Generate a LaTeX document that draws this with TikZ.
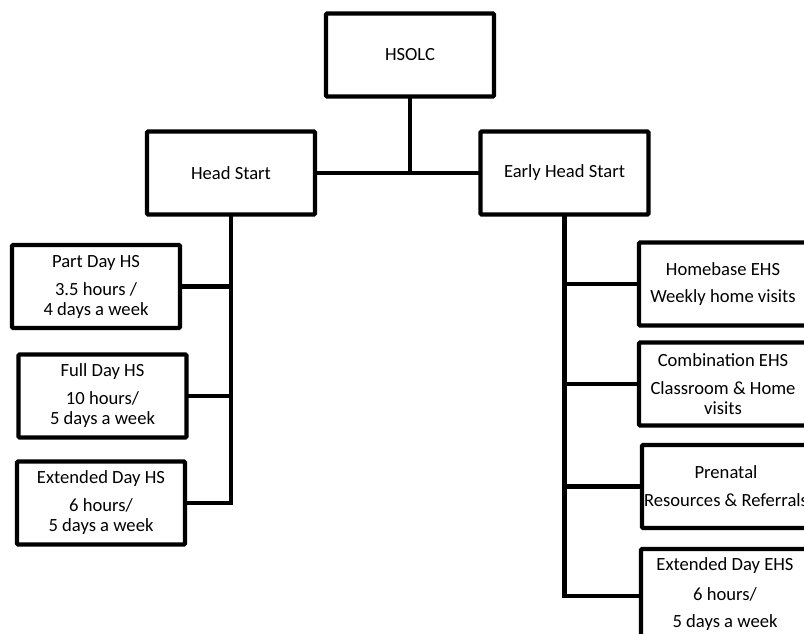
\documentclass[tikz,border=0pt]{standalone}
\usepackage{fontspec}
\setmainfont{Carlito}
\begin{document}
\begin{tikzpicture}[x=1pt,y=-1pt,
  orgbox/.style={draw=black, line width=4.3pt, rounded corners=1.2pt, minimum width=168pt, minimum height=83pt,
    inner sep=0pt, outer sep=0pt, align=center, font=\fontsize{18.6}{20}\selectfont, fill=white},
  link/.style={draw=black, line width=4.3pt}]
\useasboundingbox (0,0) rectangle (804,633);
\begin{scope}
\clip (0,0) rectangle (804,633);
\node[orgbox] (hsolc) at (410,55) {HSOLC};
\node[orgbox] (hs) at (231,173) {Head Start};
\node[orgbox] (ehs) at (564.5,173) {Early Head Start};
\node[orgbox] (part) at (96,286.5) {Part Day HS\\[8pt]3.5 hours /\\4 days a week};
\node[orgbox] (full) at (102.5,396) {Full Day HS\\[8pt]10 hours/\\5 days a week};
\node[orgbox] (exths) at (101,503) {Extended Day HS\\[8pt]6 hours/\\5 days a week};
\node[orgbox] (home) at (723,284) {Homebase EHS\\[7pt]Weekly home visits};
\node[orgbox] (comb) at (723,384) {Combination EHS\\[8pt]Classroom \& Home\\visits};
\node[orgbox] (pren) at (726,486.5) {Prenatal\\[8pt]Resources \& Referrals};
\node[orgbox, minimum height=90pt] (extehs) at (725,594) {Extended Day EHS\\[10pt]6 hours/\\[7pt]5 days a week};
\draw[link] (hsolc.south) -- (hsolc.south |- hs.east);
\draw[link] (hs.east) -- (ehs.west);
\draw[link] (hs.south) |- (exths.east);
\draw[link] (part.east) -- (part.east -| hs.south);
\draw[link] (full.east) -- (full.east -| hs.south);
\draw[link] (ehs.south) |- ([yshift=-2pt]extehs.west);
\draw[link] (home.west) -- (home.west -| ehs.south);
\draw[link] (comb.west) -- (comb.west -| ehs.south);
\draw[link] (pren.west) -- (pren.west -| ehs.south);
\end{scope}
\end{tikzpicture}
\end{document}
